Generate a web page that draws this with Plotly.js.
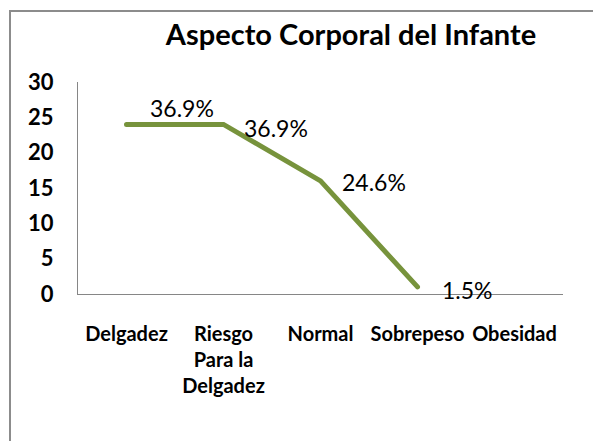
<!DOCTYPE html>
<html>
<head>
<meta charset="utf-8">
<script src="https://cdn.plot.ly/plotly-3.0.1.min.js"></script>
<style>
  html, body { margin: 0; padding: 0; background: #fff; }
  #wrap { position: relative; width: 593px; height: 441px; overflow: hidden; }
  #chart { width: 593px; height: 441px; }
  #frame { position: absolute; left: 9px; top: 10px; width: 700px; height: 600px;
           border-top: 2px solid #8c8c8c; border-left: 2px solid #8c8c8c;
           pointer-events: none; box-sizing: border-box; }
  #chart path.js-line { stroke-linecap: round; }
</style>
</head>
<body>
<div id="wrap"><div id="chart"></div><div id="frame"></div></div>
<script>
const categories = ["Delgadez", "Riesgo<br>Para la<br>Delgadez", "Normal", "Sobrepeso", "Obesidad"];
const counts = [24, 24, 16, 1, null];
const percentLabels = ["36.9%", "36.9%", "24.6%", "1.5%", null];
const yTicks = [0, 5, 10, 15, 20, 25, 30];

// label offsets (pixels) relative to each point
const labelDX = [55, 52, 53, 50];
const labelDY = [16, -4, -1, -3];

const annotations = [];
for (let i = 0; i < counts.length; i++) {
  if (counts[i] === null || percentLabels[i] === null) continue;
  annotations.push({
    x: i, y: counts[i], xref: 'x', yref: 'y',
    text: percentLabels[i], showarrow: false,
    xanchor: 'center', yanchor: 'middle',
    xshift: labelDX[i], yshift: labelDY[i],
    font: { family: 'Lato, "Open Sans", sans-serif', size: 23, color: '#000' }
  });
}

const trace = {
  x: [0, 1, 2, 3, 4],
  y: counts,
  type: 'scatter',
  mode: 'lines',
  line: { color: '#77933C', width: 5 },
  hoverinfo: 'skip'
};

const layout = {
  width: 593, height: 441,
  margin: { l: 78, r: 30, t: 82, b: 147, pad: 0 },
  paper_bgcolor: '#fff', plot_bgcolor: '#fff',
  showlegend: false,
  title: {
    text: '<b>Aspecto Corporal del Infante</b>',
    x: 351 / 593, xanchor: 'center', xref: 'container',
    y: 1 - 35 / 441, yanchor: 'middle', yref: 'container',
    font: { family: 'Lato, "Open Sans", sans-serif', size: 29, color: '#000' }
  },
  xaxis: {
    type: 'linear',
    range: [-0.5, 4.5],
    tickmode: 'array',
    tickvals: [0, 1, 2, 3, 4],
    ticktext: categories.map(c => '<b>' + c + '</b>'),
    showgrid: false, zeroline: false,
    showline: true, linecolor: '#868686', linewidth: 1,
    ticks: '', ticklabelstandoff: 22,
    tickfont: { family: 'Lato, "Open Sans", sans-serif', size: 20, color: '#000' },
    fixedrange: true
  },
  yaxis: {
    range: [0, 30],
    tickmode: 'array',
    tickvals: yTicks,
    ticktext: yTicks.map(v => '<b>' + v + '</b>'),
    showgrid: false, zeroline: false,
    showline: true, linecolor: '#868686', linewidth: 1,
    ticks: '', ticklabelstandoff: 19,
    tickfont: { family: 'Lato, "Open Sans", sans-serif', size: 22, color: '#000' },
    fixedrange: true
  },
  annotations: annotations
};

Plotly.newPlot('chart', [trace], layout, { displayModeBar: false, staticPlot: true });
</script>
</body>
</html>
